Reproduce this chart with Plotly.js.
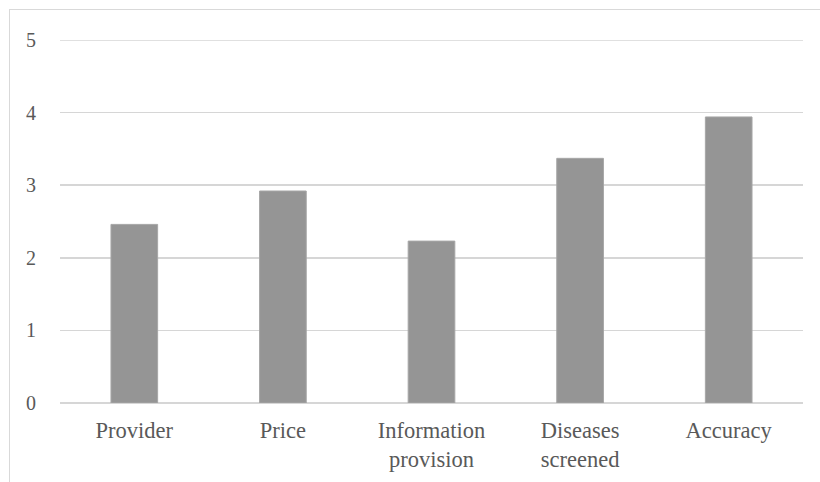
<!DOCTYPE html>
<html>
<head>
<meta charset="utf-8">
<script src="https://cdn.plot.ly/plotly-3.0.1.min.js"></script>
<style>
  html, body { margin: 0; padding: 0; background: #ffffff; overflow: hidden; }
  #frame { position: absolute; left: 9px; top: 9px; width: 900px; height: 600px; border: 1px solid #d9d9d9; box-sizing: border-box; }
  #chart { position: absolute; left: 0; top: 0; width: 820px; height: 482px; }
</style>
</head>
<body>
<div id="frame"></div>
<div id="chart"></div>
<script>
const categories = ["Provider", "Price", "Information<br>provision", "Diseases<br>screened", "Accuracy"];
const values = [2.46, 2.92, 2.23, 3.37, 3.94];
const yTicks = [0, 1, 2, 3, 4, 5];

const FONT = "Liberation Serif";

const trace = {
  type: "bar",
  x: categories,
  y: values,
  marker: { color: "#959595", line: { color: "#a6a6a6", width: 1 } },
  hoverinfo: "none"
};

const layout = {
  width: 820,
  height: 482,
  margin: { l: 60, r: 17, t: 40, b: 79 },
  paper_bgcolor: "rgba(0,0,0,0)",
  plot_bgcolor: "rgba(0,0,0,0)",
  bargap: 0.686,
  showlegend: false,
  font: { family: FONT, color: "#595959" },
  xaxis: {
    type: "category",
    showgrid: false,
    showline: false,
    zeroline: false,
    ticks: "",
    tickfont: { family: FONT, size: 22.5, color: "#595959" },
    ticklabelstandoff: 11
  },
  yaxis: {
    range: [0, yTicks[yTicks.length - 1]],
    tickvals: yTicks,
    ticktext: yTicks.map(String),
    showgrid: true,
    gridcolor: "#d6d6d6",
    gridwidth: 1.5,
    zeroline: true,
    zerolinecolor: "#d6d6d6",
    zerolinewidth: 1.5,
    showline: false,
    ticks: "",
    tickfont: { family: FONT, size: 20, color: "#595959" },
    ticklabelstandoff: 23
  },
  shapes: [{
    type: "line", xref: "paper", yref: "y",
    x0: 0, x1: 1, y0: yTicks[yTicks.length - 1], y1: yTicks[yTicks.length - 1],
    line: { color: "#d6d6d6", width: 1.5 }, layer: "below"
  }]
};

Plotly.newPlot("chart", [trace], layout, { displayModeBar: false, staticPlot: true });
</script>
</body>
</html>
